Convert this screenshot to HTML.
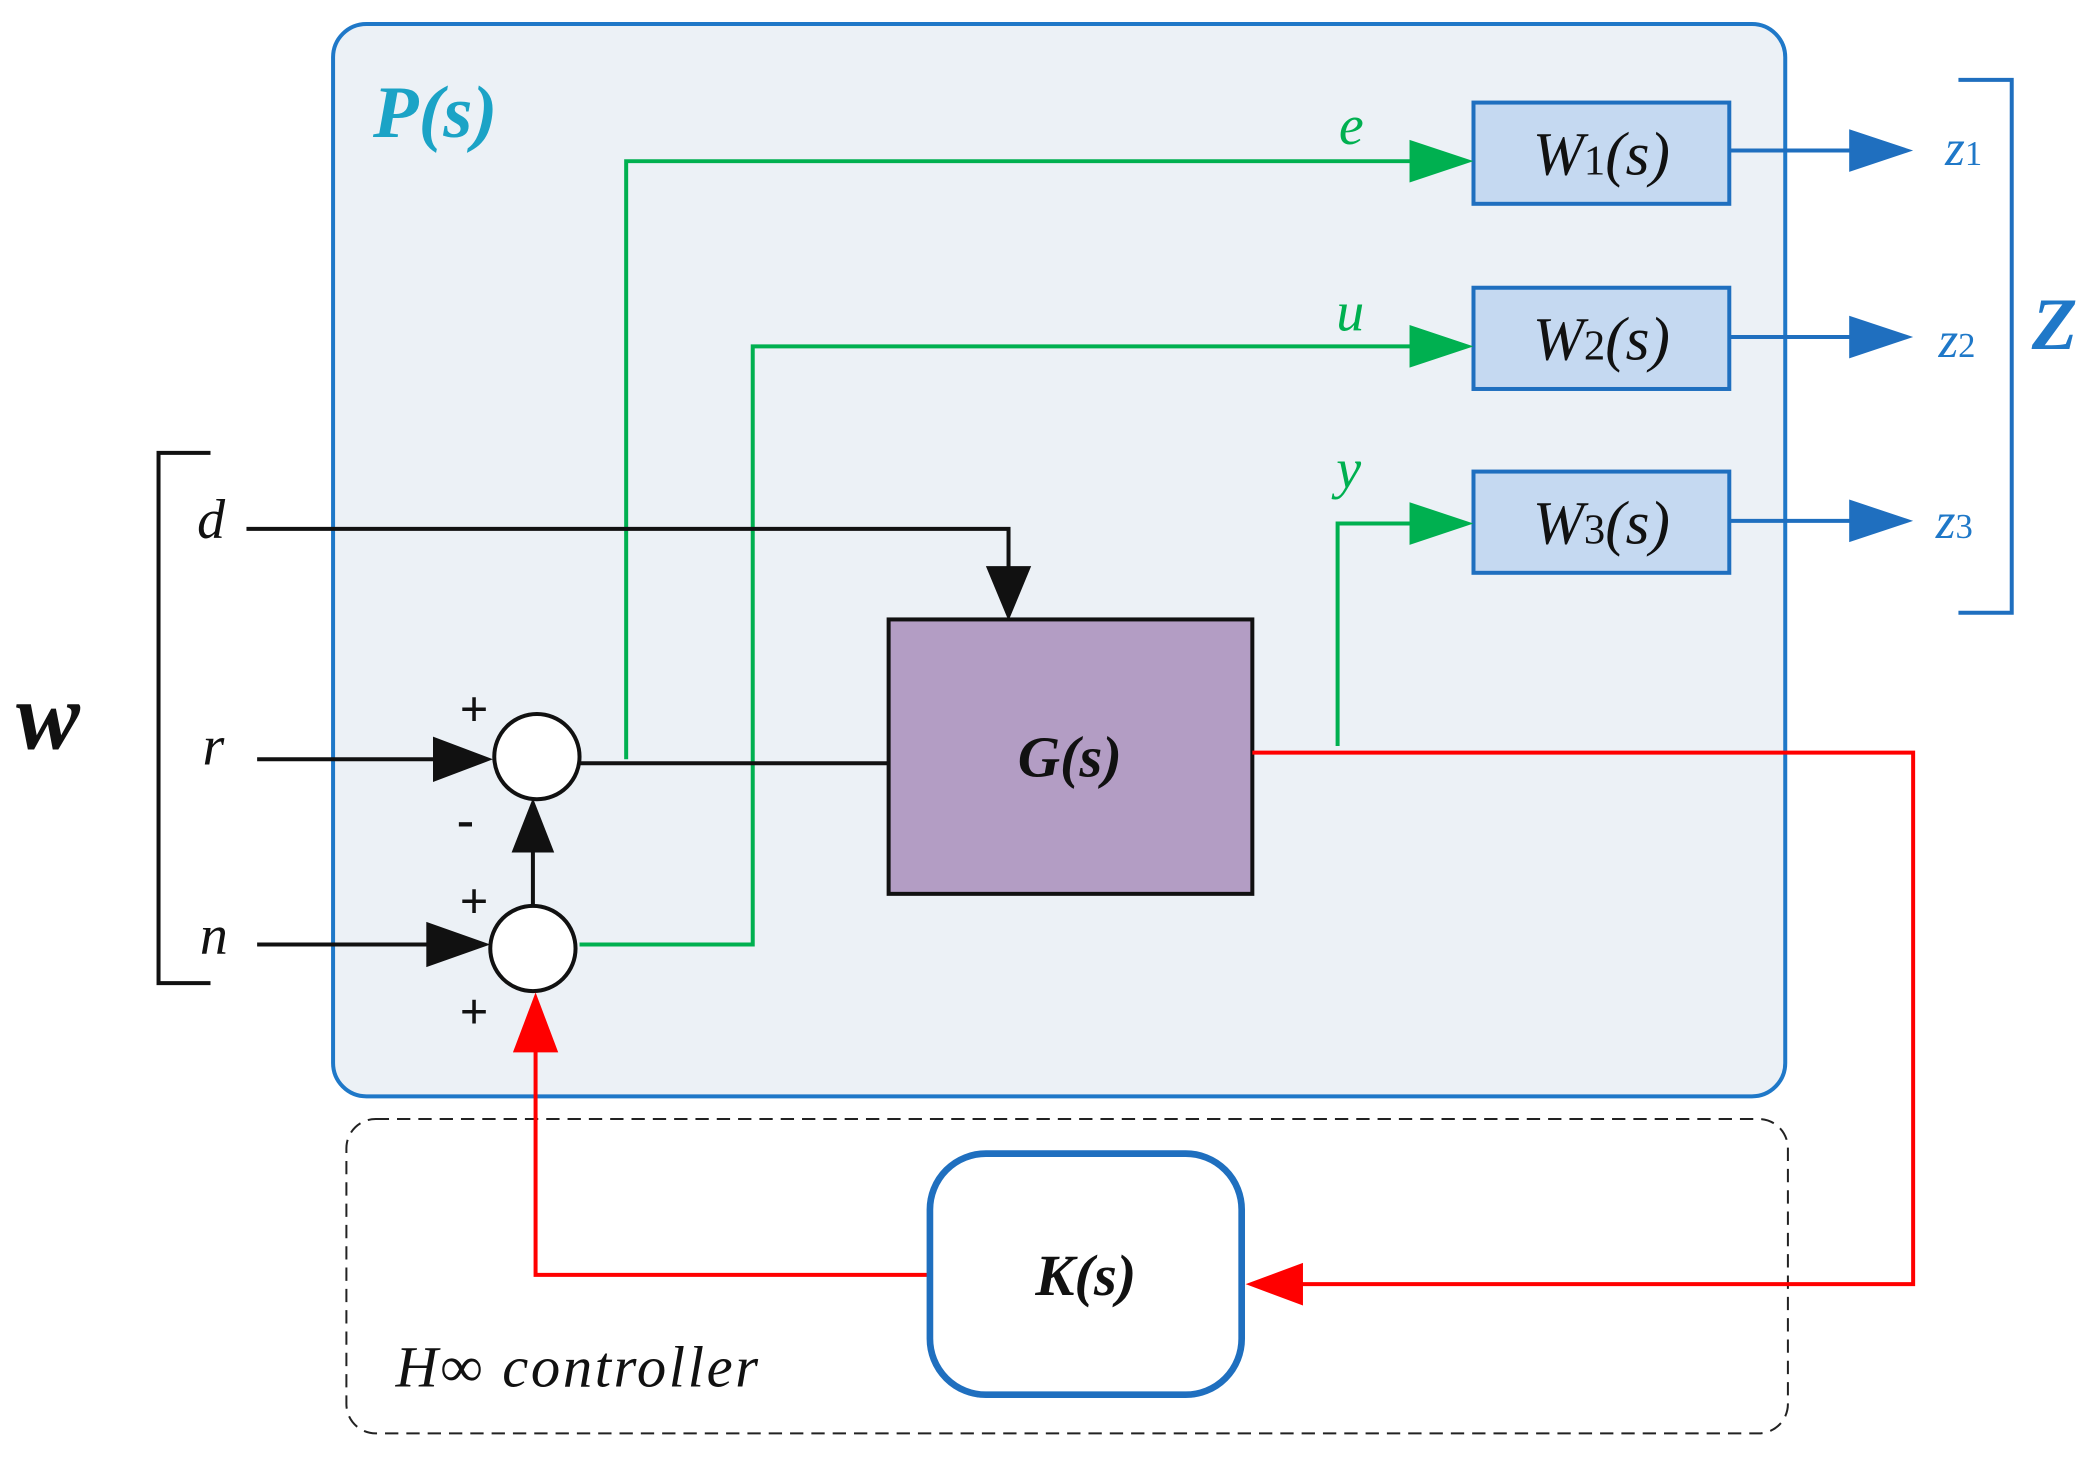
<!DOCTYPE html>
<html><head><meta charset="utf-8"><style>
html,body{margin:0;padding:0;background:#fff;}
svg{display:block;}
text{font-family:"Liberation Serif",serif;font-style:italic;}
</style></head><body>
<svg width="2089" height="1460" viewBox="0 0 1568 1096" preserveAspectRatio="none" xmlns="http://www.w3.org/2000/svg">
<rect x="250" y="18" width="1090" height="805" rx="25" fill="#ecf1f6" stroke="#1f78c8" stroke-width="3"/>
<text x="280" y="103" font-size="56" font-weight="bold" fill="#1ba3c6">P(s)</text>

<rect x="260" y="840" width="1082" height="236" rx="22" fill="none" stroke="#222" stroke-width="1.5" stroke-dasharray="10,6"/>
<text x="297" y="1041" font-size="44" fill="#111" textLength="272">H∞ controller</text>

<g fill="#c5d9f1" stroke="#1f6fbf" stroke-width="3">
<rect x="1106" y="77" width="192" height="76"/>
<rect x="1106" y="216" width="192" height="76"/>
<rect x="1106" y="354" width="192" height="76"/>
</g>
<g font-size="46" fill="#111" text-anchor="middle">
<text x="1202" y="131">W<tspan font-size="32" style="font-style:normal">1</tspan>(s)</text>
<text x="1202" y="270">W<tspan font-size="32" style="font-style:normal">2</tspan>(s)</text>
<text x="1202" y="408">W<tspan font-size="32" style="font-style:normal">3</tspan>(s)</text>
</g>

<g stroke="#00b050" stroke-width="3" fill="none">
<polyline points="470,570 470,121 1062,121"/>
<polyline points="435,709 565,709 565,260 1062,260"/>
<polyline points="1004,560 1004,393 1062,393"/>
</g>
<g fill="#00b050">
<polygon points="1058,105 1106,121 1058,137"/>
<polygon points="1058,244 1106,260 1058,276"/>
<polygon points="1058,377 1106,393 1058,409"/>
</g>
<g font-size="42" fill="#00b050">
<text x="1005" y="108">e</text>
<text x="1003" y="248">u</text>
<text x="1003" y="366">y</text>
</g>

<g stroke="#1f6fbf" stroke-width="3">
<line x1="1298" y1="113" x2="1395" y2="113"/>
<line x1="1298" y1="253" x2="1395" y2="253"/>
<line x1="1298" y1="391" x2="1395" y2="391"/>
</g>
<g fill="#1f6fbf">
<polygon points="1388,97 1436,113 1388,129"/>
<polygon points="1388,237 1436,253 1388,269"/>
<polygon points="1388,375 1436,391 1388,407"/>
</g>
<g font-size="38" fill="#1f78c8">
<text x="1460" y="124">z<tspan font-size="26" style="font-style:normal">1</tspan></text>
<text x="1455" y="268">z<tspan font-size="26" style="font-style:normal">2</tspan></text>
<text x="1453" y="404">z<tspan font-size="26" style="font-style:normal">3</tspan></text>
</g>
<polyline points="1470,60 1510,60 1510,460 1470,460" fill="none" stroke="#1f6fbf" stroke-width="3"/>
<text x="1525" y="262" font-size="56" font-weight="bold" fill="#1f78c8">Z</text>

<polyline points="158,340 119,340 119,738 158,738" fill="none" stroke="#111" stroke-width="3"/>
<text x="12" y="562" font-size="72" font-weight="bold" fill="#111">w</text>
<g font-size="42" fill="#111">
<text x="148" y="404">d</text>
<text x="152" y="574">r</text>
<text x="150" y="716">n</text>
</g>

<g stroke="#111" stroke-width="3" fill="none">
<polyline points="185,397 757,397 757,430"/>
<line x1="193" y1="570" x2="335" y2="570"/>
<line x1="193" y1="709" x2="330" y2="709"/>
<line x1="435" y1="573" x2="667" y2="573"/>
<line x1="400" y1="680" x2="400" y2="635"/>
</g>
<g fill="#111">
<polygon points="740,425 774,425 757,466"/>
<polygon points="325,553 370,570 325,587"/>
<polygon points="320,692 368,709 320,726"/>
<polygon points="384,640 416,640 400,599"/>
</g>
<g fill="#fff" stroke="#111" stroke-width="3">
<circle cx="403" cy="568" r="32"/>
<circle cx="400" cy="712" r="32"/>
</g>
<g font-family="Liberation Sans,sans-serif" font-weight="bold" font-size="38" fill="#111">
<text x="345" y="545" style="font-style:normal">+</text>
<text x="343" y="628" style="font-style:normal">-</text>
<text x="345" y="689" style="font-style:normal">+</text>
<text x="345" y="772" style="font-style:normal">+</text>
</g>

<rect x="667" y="465" width="273" height="206" fill="#b39dc4" stroke="#111" stroke-width="3"/>
<text x="803" y="583" font-size="44" font-weight="bold" fill="#111" text-anchor="middle">G(s)</text>

<g stroke="#f00" stroke-width="3" fill="none">
<polyline points="940,565 1436,565 1436,964 975,964"/>
<polyline points="697,957 402,957 402,785"/>
</g>
<g fill="#f00">
<polygon points="978,948 935,964 978,980"/>
<polygon points="385,790 419,790 402,745"/>
</g>

<rect x="698" y="866" width="234" height="181" rx="42" fill="#fff" stroke="#1f6fbf" stroke-width="5"/>
<text x="815" y="972" font-size="44" font-weight="bold" fill="#111" text-anchor="middle">K(s)</text>
</svg>
</body></html>
